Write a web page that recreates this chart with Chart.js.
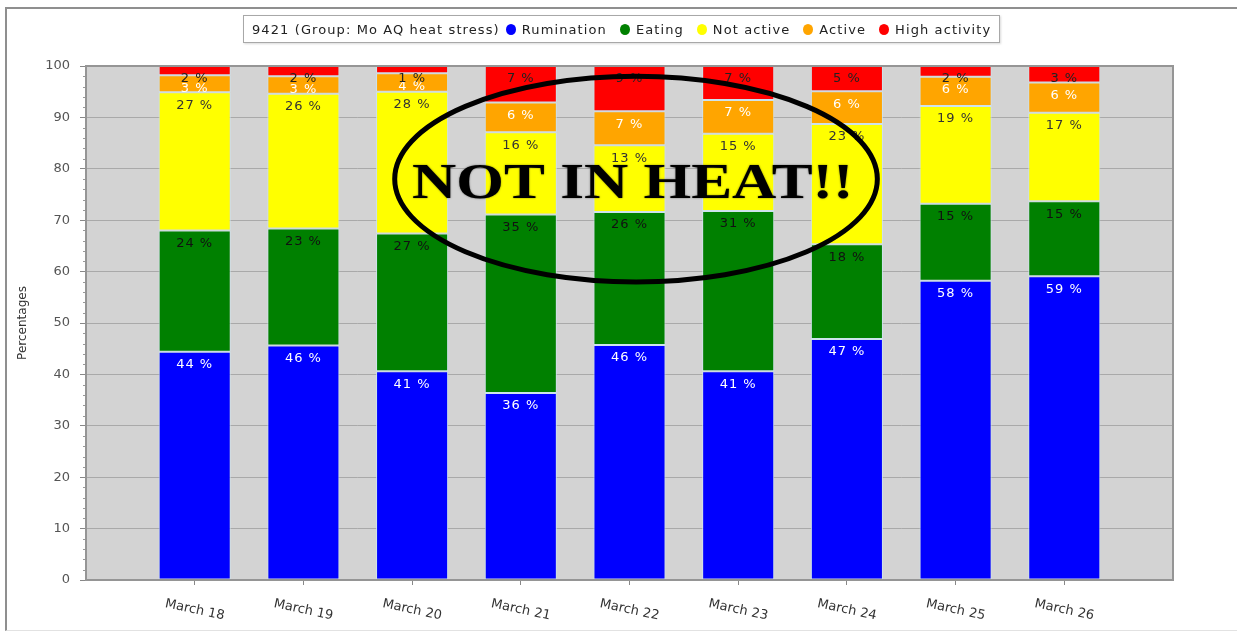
<!DOCTYPE html>
<html>
<head>
<meta charset="utf-8">
<title>9421 activity</title>
<script src="https://cdn.jsdelivr.net/npm/chart.js@4.4.1/dist/chart.umd.min.js"></script>
<style>
    body { margin: 0; background: #fff; }
    #wrap { position: relative; width: 1237px; height: 632px; }
    #frame { position: absolute; left: 5px; top: 7px; right: 0; bottom: 1px; border-top: 2px solid #8f8f8f; border-left: 2px solid #8f8f8f; border-bottom: 1px solid #e2e2e2; pointer-events: none; }
    #legend { position: absolute; left: 243px; top: 15px; height: 28px; box-sizing: border-box; border: 1px solid #a8a8a8; background: #fff; font: 13px "DejaVu Sans"; letter-spacing: 1.1px; color: #222; display: flex; align-items: center; padding: 0 8px; white-space: nowrap; box-shadow: 1px 1px 2px rgba(0,0,0,.15); }
    #legend .dot { display: inline-block; width: 10px; height: 11px; border-radius: 50%; margin: 0 6px 0 13px; }
    #legend .dot.first { margin-left: 6px; }
</style>
</head>
<body>
<div id="wrap">
    <canvas id="canvasActivity"></canvas>
    <div id="frame"></div>
    <div id="legend"></div>
</div>
<script>
"use strict";

var dates = ['March 18', 'March 19', 'March 20', 'March 21', 'March 22', 'March 23', 'March 24', 'March 25', 'March 26'];
var rumination   = [44.4, 45.6, 40.6, 36.4, 45.7, 40.6, 46.9, 58.2, 59.1];
var eating       = [23.6, 22.8, 26.8, 34.7, 25.9, 31.2, 18.4, 15.0, 14.6];
var notActive    = [26.9, 26.2, 27.6, 16.0, 13.0, 15.0, 23.4, 19.0, 17.2];
var active       = [3.3, 3.4, 3.6, 5.8, 6.6, 6.6, 6.4, 5.7, 5.9];
var highActivity = [1.8, 2.0, 1.4, 7.1, 8.8, 6.6, 4.9, 2.1, 3.2];
var yTicks = [0, 10, 20, 30, 40, 50, 60, 70, 80, 90, 100];

var legendTitle = '9421 (Group: Mo AQ heat stress)';
var seriesNames = ['Rumination', 'Eating', 'Not active', 'Active', 'High activity'];
var seriesColors = ['#0000ff', '#008000', '#ffff00', '#ffa500', '#ff0000'];
var labelColors = ['#ffffff', '#111111', '#333333', '#ffffff', '#222222'];
var seriesData = [rumination, eating, notActive, active, highActivity];

// hand drawn note on the picture, in axis units
var noteText = 'NOT IN HEAT!!';
var noteEllipse = { x: 5.06, y: 78, rx: 2.22, ry: 20 };
var noteLabel = { x: 5.03, y: 74.3, w: 4.06 };

function BuildLegend() {
    var html = '<span>' + legendTitle + '</span>';
    seriesNames.forEach(function (name, i) {
        html += '<span class="dot' + (i === 0 ? ' first' : '') + '" style="background:' + seriesColors[i] + '"></span><span>' + name + '</span>';
    });
    document.getElementById('legend').innerHTML = html;
}

var plotDecor = {
    id: 'plotDecor',
    beforeDraw: function (chart) {
        var ctx = chart.ctx, a = chart.chartArea;
        ctx.save();
        ctx.fillStyle = '#d3d3d3';
        ctx.fillRect(a.left, a.top, a.right - a.left, a.bottom - a.top);
        ctx.restore();
    },
    afterDatasetsDraw: function (chart) {
        var ctx = chart.ctx, a = chart.chartArea, yScale = chart.scales.y;
        ctx.save();
        // minor ticks
        ctx.strokeStyle = '#999';
        ctx.lineWidth = 1;
        for (var v = 2; v < 100; v += 2) {
            if (v % 10 === 0) continue;
            var py = Math.round(yScale.getPixelForValue(v)) + 0.5;
            ctx.beginPath();
            ctx.moveTo(a.left - 3, py);
            ctx.lineTo(a.left, py);
            ctx.stroke();
        }
        // plot border
        ctx.strokeStyle = '#959595';
        ctx.lineWidth = 2;
        ctx.strokeRect(a.left, a.top, a.right - a.left, a.bottom - a.top);

        // value labels
        ctx.font = '13px "DejaVu Sans"';
        ctx.letterSpacing = '1px';
        ctx.textAlign = 'center';
        ctx.textBaseline = 'middle';
        chart.data.datasets.forEach(function (ds, di) {
            var meta = chart.getDatasetMeta(di);
            ctx.fillStyle = labelColors[di];
            meta.data.forEach(function (bar, i) {
                ctx.fillText(Math.round(seriesData[di][i]) + ' %', bar.x, bar.y + 13);
            });
        });
        ctx.restore();
    },
    afterDraw: function (chart) {
        var ctx = chart.ctx, a = chart.chartArea, xScale = chart.scales.x, yScale = chart.scales.y;
        ctx.save();
        // slanted date labels
        ctx.font = '13px "DejaVu Sans"';
        ctx.fillStyle = '#333';
        ctx.textAlign = 'center';
        ctx.textBaseline = 'middle';
        xScale.ticks.forEach(function (t) {
            ctx.save();
            ctx.translate(xScale.getPixelForValue(t.value), a.bottom + 30);
            ctx.rotate(12 * Math.PI / 180);
            ctx.fillText(dates[t.value - 1], 0, 0);
            ctx.restore();
        });

        // ellipse note
        var cx = xScale.getPixelForValue(noteEllipse.x);
        var cy = yScale.getPixelForValue(noteEllipse.y);
        var rx = xScale.getPixelForValue(noteEllipse.x + noteEllipse.rx) - cx;
        var ry = yScale.getPixelForValue(noteEllipse.y - noteEllipse.ry) - cy;
        ctx.strokeStyle = '#000';
        ctx.lineWidth = 5;
        ctx.beginPath();
        ctx.ellipse(cx, cy, rx, ry, 0, 0, 2 * Math.PI);
        ctx.stroke();

        var tx = xScale.getPixelForValue(noteLabel.x);
        var ty = yScale.getPixelForValue(noteLabel.y);
        var tw = xScale.getPixelForValue(noteLabel.x + noteLabel.w / 2) - xScale.getPixelForValue(noteLabel.x - noteLabel.w / 2);
        ctx.font = 'bold 50px "Liberation Serif"';
        ctx.textBaseline = 'alphabetic';
        var mw = ctx.measureText(noteText).width;
        ctx.translate(tx, ty);
        ctx.scale(tw / mw, 1);
        ctx.fillStyle = '#000';
        ctx.shadowColor = 'rgba(0,0,0,0.5)';
        ctx.shadowBlur = 2;
        ctx.fillText(noteText, 0, 0);
        ctx.restore();
    }
};

function BindActivityToGraph() {
    var datasets = seriesData.map(function (values, i) {
        return {
            label: seriesNames[i],
            data: values.map(function (v, j) { return { x: j + 1, y: v }; }),
            backgroundColor: seriesColors[i],
            borderColor: 'rgba(205,228,238,0.9)',
            borderWidth: 1,
            borderSkipped: false,
            categoryPercentage: 1,
            barPercentage: 0.663
        };
    });

    const context = document.getElementById('canvasActivity');
    const myChart = new Chart(context, {
        type: 'bar',
        data: { datasets: datasets },
        options: {
            responsive: true,
            maintainAspectRatio: false,
            animation: false,
            layout: { padding: { top: 66, right: 64, bottom: 0, left: 0 } },
            plugins: {
                legend: { display: false },
                tooltip: { enabled: false }
            },
            scales: {
                x: {
                    type: 'linear',
                    stacked: true,
                    min: 0,
                    max: 10,
                    offset: false,
                    afterBuildTicks: function (scale) {
                        scale.ticks = dates.map(function (d, i) { return { value: i + 1 }; });
                    },
                    ticks: {
                        color: 'rgba(0,0,0,0)',
                        autoSkip: false,
                        minRotation: 0,
                        maxRotation: 0,
                        callback: function (value) { return dates[value - 1] || ''; }
                    },
                    grid: { display: true, offset: false, drawOnChartArea: false, drawTicks: true, tickLength: 5, tickColor: '#888' },
                    border: { display: false },
                    afterFit: function (scale) { scale.height = 52; }
                },
                y: {
                    stacked: true,
                    min: 0,
                    max: 100,
                    afterBuildTicks: function (scale) {
                        scale.ticks = yTicks.map(function (v) { return { value: v }; });
                    },
                    ticks: {
                        color: '#555',
                        font: { family: 'DejaVu Sans', size: 13 },
                        padding: 10
                    },
                    grid: { color: '#a9a9a9', tickColor: '#888', tickLength: 6 },
                    border: { display: false },
                    title: {
                        display: true,
                        text: 'Percentages',
                        color: '#333',
                        font: { family: 'DejaVu Sans', size: 12 },
                        padding: { top: 16, bottom: 0 }
                    },
                    afterFit: function (scale) { scale.width = 86; }
                }
            }
        },
        plugins: [plotDecor]
    });
}

BuildLegend();
BindActivityToGraph();
</script>
</body>
</html>
